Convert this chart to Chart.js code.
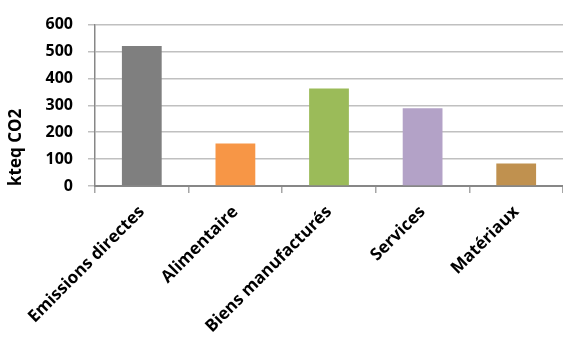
<!DOCTYPE html>
<html>
<head>
<meta charset="utf-8">
<script src="https://cdn.jsdelivr.net/npm/chart.js@4/dist/chart.umd.min.js"></script>
<style>
html,body{margin:0;padding:0;background:#fff;}
#wrap{width:563px;height:340px;}
</style>
</head>
<body>
<div id="wrap"><canvas id="c" width="563" height="340"></canvas></div>
<script>
const categories = ["Emissions directes", "Alimentaire", "Biens manufacturés", "Services", "Matériaux"];
const values = [520, 158, 362, 289, 84];
const barColors = ["#7f7f7f", "#f79646", "#9bbb59", "#b3a2c7", "#c0914f"];
const yTicks = [0, 100, 200, 300, 400, 500, 600];

const yTickFont = {family: "Open Sans", weight: "bold", size: 16};
const xTickFont = {family: "Open Sans", weight: "bold", size: 17};
const titleFont = {family: "Open Sans", weight: "bold", size: 17};

new Chart(document.getElementById("c"), {
  type: "bar",
  data: {
    labels: categories,
    datasets: [{
      data: values,
      backgroundColor: barColors,
      borderWidth: 0,
      barPercentage: 0.425,
      categoryPercentage: 1.0
    }]
  },
  options: {
    responsive: false,
    animation: false,
    layout: {padding: {left: 0, right: 0, top: 12, bottom: 0}},
    plugins: {legend: {display: false}, tooltip: {enabled: false}},
    scales: {
      x: {
        offset: true,
        afterFit: (s) => { s.height = 154; },
        grid: {display: true, drawOnChartArea: false, drawTicks: true, tickLength: 7, color: "#a6a6a6", lineWidth: 1.5, offset: true},
        border: {display: true, color: "#878787", width: 2},
        ticks: {color: "#000", font: xTickFont, minRotation: 45, maxRotation: 45, padding: 9, autoSkip: false}
      },
      y: {
        min: 0, max: 600,
        afterFit: (s) => { s.width = 95; },
        afterBuildTicks: (s) => { s.ticks = yTicks.map(v => ({value: v})); },
        grid: {color: "#c0c0c0", lineWidth: 1.5, tickLength: 7, drawTicks: true},
        border: {display: true, color: "#878787", width: 1.5},
        ticks: {color: "#000", font: yTickFont, padding: 15},
        title: {display: true, text: "kteq CO2", color: "#000", font: titleFont, align: "start", padding: {top: 6, bottom: 0}}
      }
    }
  }
});
</script>
</body>
</html>
